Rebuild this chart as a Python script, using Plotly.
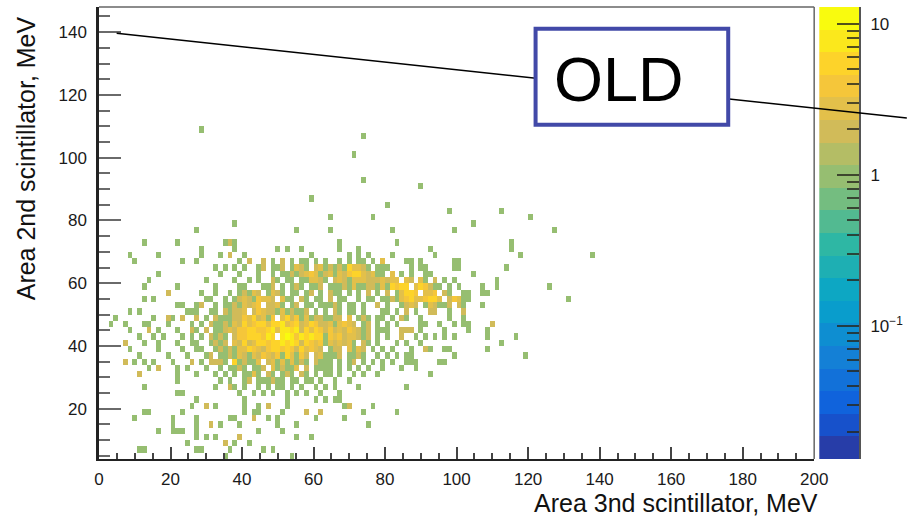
import numpy as np
import plotly.graph_objects as go

# ---- histogram binning ----
X_MIN, X_MAX, X_BINS = 0.0, 200.0, 150
Y_MIN, Y_MAX, Y_BIN = 4.0, 148.0, 2.0
Z_LOG_MIN, Z_LOG_MAX = -1.88, 1.11   # colour axis range (log10 of counts)
N_CONTOURS = 20

# ---- bin contents: one string per y-bin row (bottom row first), one char per x-bin
# '.' = empty, '1'..'9' = counts, 'a' = 10
ROW_COUNTS = [
    ".......... .......... ......1... .......... 1.........",                          # 0
    "........11 .......... 11.....1.. ....1.1...",                                     # 1
    ".......... ........1. ......2.1. .1........",                                     # 2
    ".......... .......... 1.1.1....2 .......... .1..1.....",                          # 3
    ".......... ..1..111.. 1......... ...1....1.",                                     # 4
    ".......... .....1.... 1..2.1...1 .......1.. .1........ ......1...",               # 5
    ".......1.. .....1.... 1......11. ..2..1.1.. .....1.... .1........",               # 6
    ".........1 1......1.. .......... 1.11....1. ...2..2... .....1.... ..1.......",    # 7
    ".......... .........1 ..2.1..... 1..1.2...1 .......... .12....1..",               # 8
    ".......... .......... 1......... 1........1 .....1.1.1 1.........",               # 9
    ".......... ......11.. .........1 ..1.1.1..1 .1.1..1... 1.........",               # 10
    ".........1 .......... ....1..21. 1..1.1.11. 1.1..1.1.1 ....1..... ....1.....",    # 11
    ".......... ......1... .....1.1.. 12.111211. 11.11.1..1 ..1.......",               # 12
    "........2. ......1... 1...1.1.1. 1131.21.12 1.21.1.11. 1..1.1..1. .........1",    # 13
    ".......... 1.2...1.1. ..1..1.112 1.112.3121 13.2.1111. 1.1.1.1..1 ...1..1...",    # 14
    ".....2.1.1 .1...1...2 .1.2221.51 2113.23131 3121.2111. 1.12.1.1.1 .1..111... .11.......",  # 15
    "........1. ....1...1. ..12.11213 2132432415 3142.23111 2.1121..1. 1.1.11.... ....1..... .........1",  # 16
    "......1... ..1....1.. 11..121213 3543245546 4253432.12 2.3132.1.1 .1...1..21 ..11...... .1........",  # 17
    ".....2...1 ..1...1..1 1..1212.32 5236546576 7625434132 3231.21.1. ..1.1..1.. .......... ....1.....",  # 18
    "........1. .1.1...1.1 .1.2121.24 4565476.7a 8476856143 4233212.1. 1..2..1.1. 1.1.1..... .1.....1..",  # 19
    "......1... 2.1...1..2 1.2.112324 4654458379 6725354242 3243212.11 1..222.1.. ..1....1.. .1........",  # 20
    "..1..1...1 1...1....1 .1.2112132 5346535673 4523642231 3432.12.1. 1.1....11. .1..1.11.. ..2.......",  # 21
    "...1...... .1..21.2.. 2.1.211122 4352314.35 2413122112 2.3.121.11 .1.21..1.. ...1..1...",  # 22
    "......1.1. ........11 1..11.2122 3.24322131 2112.1.1.2 1.11.1...1 1.1.2.1..2 2..1..2...",  # 23
    ".......... ......11.. 12..1.1121 3234.2231. 12.11.1112 1.11.1..2. 1..1232.13 2112.21... 1.........",  # 24
    ".........1 .1........ ..11..1.12 3214332.31 1.21.11.2. 11..1.11.1 1213453345 53.24311.. .......... ........1.",  # 25
    ".......... ....2..... .1..1..1.1 2132.1321. 11.12.1.21 1.1.1.2.1. 2.13564.33 4.21..11.. 11........",  # 26
    ".........1 ......1... ....1....1 1...112.1. 121.112.11 1213112213 15456.3542 11.1.1.... 1..1...... ....1.....",  # 27
    ".......... 1......... ..1.....1. .1.1..21.1 1.113321.2 3213332223 233.32.31. 2.1.1..... ...1......",  # 28
    ".......... ..1....... .....1...1 ...1..1.11 2123431231 3245532311 .3.1.1..11 ........1.",  # 29
    ".......... .......... ....1.1.1. 1..12.112. 1321.23121 2153321.11 1....1.11. ....11.... .....1....",  # 30
    ".......1.. .......1.. 1........1 .2..2.1.2. 1.11.1.1.. 1.1.11.1.3 ....11.1.. ....11....",  # 31
    "......1... ..1....... .1...1.2.. 1......... ....1..... ..1.1.1... .1........ 1......... ........1. .......... ...1......",  # 32
    ".......... .......... .1......1. .......1.1 ..1....... 1...1..... .........1 .......... ......1...",  # 33
    ".........1 ......1... ......121. .......... .......... 1......... ..1....... .......... ......1...",  # 34
    "",                                                                                 # 35
    ".......... .......... 1......... .......... .1......1. .......... .1........ ....1..... .......... .....1....",  # 36
    ".......... .......... ........1. .......... .......... .......... .......... ........1.",  # 37
    ".......... .......... .......... .......... ........1. .......1.. .......... .......... .......... 1.........",  # 38
    ".......... .......... .......... .......... .......... .......... .......... ...1...... ....1.....",  # 39
    ".......... .......... .......... .......... .......... .......... 1.........",       # 40
    ".......... .......... .......... .......... ....1.....",                             # 41
    "",                                                                                   # 42
    ".......... .......... .......... .......... .......... .......... .......1..",       # 43
    ".......... .......... .......... .......... .......... .....1....",                  # 44
    "",                                                                                   # 45
    "",                                                                                   # 46
    "",                                                                                   # 47
    ".......... .......... .......... .......... .......... ...1......",                  # 48
    "",                                                                                   # 49
    "",                                                                                   # 50
    ".......... .......... .......... .......... .......... .....1....",                  # 51
    ".......... .......... .1........",                                                   # 52
]

X_TICKS = [0, 20, 40, 60, 80, 100, 120, 140, 160, 180, 200]
Y_TICKS = [20, 40, 60, 80, 100, 120, 140]
CBAR_TICK_VALUES = [0.1, 1, 10]
CBAR_TICK_TEXT = ["10<sup>\u22121</sup>", "1", "10"]

X_TITLE = "Area 3nd scintillator, MeV"
Y_TITLE = "Area 2nd scintillator, MeV"
LABEL_TEXT = "OLD"

FONT = "Liberation Sans, Arial, Helvetica, sans-serif"


def decode(ch):
    if ch == ".":
        return 0
    if ch.isdigit():
        return int(ch)
    return 10 + ord(ch) - ord("a")


# ---- build the 2D histogram ----
nx = X_BINS
ny = int(round((Y_MAX - Y_MIN) / Y_BIN))
bw = (X_MAX - X_MIN) / X_BINS
counts = np.zeros((ny, nx))
for j, row in enumerate(ROW_COUNTS):
    groups = row.split()
    for g in groups[:-1]:
        assert len(g) == 10, (j, g)
    cells = "".join(groups)
    for i, ch in enumerate(cells):
        counts[j, i] = decode(ch)

x_centers = X_MIN + (np.arange(nx) + 0.5) * bw
y_centers = Y_MIN + (np.arange(ny) + 0.5) * Y_BIN
safe = np.where(counts > 0, counts, 1.0)
zlog = np.where(counts > 0, np.log10(safe), np.nan)

# ---- ROOT "bird" palette, sampled into 20 contour bands ----
BIRD_STOPS = [0.0, 0.125, 0.25, 0.375, 0.5, 0.625, 0.75, 0.875, 1.0]
BIRD_R = [0.2082, 0.0592, 0.0780, 0.0232, 0.1802, 0.5301, 0.8186, 0.9956, 0.9764]
BIRD_G = [0.1664, 0.3599, 0.5041, 0.6419, 0.7178, 0.7492, 0.7328, 0.7862, 0.9832]
BIRD_B = [0.5293, 0.8684, 0.8385, 0.7914, 0.6425, 0.4662, 0.3499, 0.1968, 0.0539]


def bird(p):
    r = np.interp(p, BIRD_STOPS, BIRD_R)
    g = np.interp(p, BIRD_STOPS, BIRD_G)
    b = np.interp(p, BIRD_STOPS, BIRD_B)
    return "rgb(%d,%d,%d)" % (round(r * 255), round(g * 255), round(b * 255))


band_colors = []
for k in range(N_CONTOURS):
    idx = int((k + 0.99) * 255 / N_CONTOURS)
    band_colors.append(bird(min(idx / 254.0, 1.0)))

colorscale = []
for k, c in enumerate(band_colors):
    colorscale.append([k / N_CONTOURS, c])
    colorscale.append([(k + 1) / N_CONTOURS, c])

# ---- figure geometry (pixels) ----
W, H = 910, 521
ML, MR, MT, MB = 99, 48, 7, 62
PW, PH = W - ML - MR, H - MT - MB
MAIN_RIGHT_PX = 817
CBAR_LEFT_PX = 822


def px_x(px):
    return (px - ML) / PW


def px_y(py):
    return (H - MB - py) / PH


fig = go.Figure()

fig.add_trace(go.Heatmap(
    x=x_centers, y=y_centers, z=zlog,
    zmin=Z_LOG_MIN, zmax=Z_LOG_MAX, colorscale=colorscale,
    showscale=False, hoverinfo="skip", xaxis="x", yaxis="y",
))

# palette strip
band_edges = np.linspace(Z_LOG_MIN, Z_LOG_MAX, N_CONTOURS + 1)
band_mid = 0.5 * (band_edges[:-1] + band_edges[1:])
fig.add_trace(go.Heatmap(
    x=[0], y=band_mid, z=[[v] for v in band_mid],
    zmin=Z_LOG_MIN, zmax=Z_LOG_MAX, colorscale=colorscale,
    showscale=False, hoverinfo="skip", xaxis="x2", yaxis="y2",
))

minor_cbar = []
for dec in (0.01, 0.1, 1.0):
    for m in range(2, 10):
        v = np.log10(m * dec)
        if Z_LOG_MIN < v < Z_LOG_MAX:
            minor_cbar.append(float(v))

tick_font = dict(family=FONT, size=17, color="#1a1a1a")

fig.update_layout(
    width=W, height=H,
    margin=dict(l=ML, r=MR, t=MT, b=MB, pad=0),
    paper_bgcolor="white", plot_bgcolor="white",
    showlegend=False,
    xaxis=dict(
        domain=[0, px_x(MAIN_RIGHT_PX)], range=[X_MIN, X_MAX],
        tickvals=X_TICKS, ticks="inside", ticklen=12, tickwidth=1.5, tickcolor="#444",
        minor=dict(tick0=0, dtick=5, ticks="inside", ticklen=6, tickwidth=1.5, tickcolor="#444"),
        showline=True, linecolor="#222", linewidth=2, mirror=False,
        showgrid=False, zeroline=False, tickfont=tick_font, ticklabelstandoff=4,
        anchor="y",
    ),
    yaxis=dict(
        domain=[0, 1], range=[Y_MIN, Y_MAX],
        tickvals=Y_TICKS, ticks="inside", ticklen=22, tickwidth=2, tickcolor="#6a6a6a",
        minor=dict(tick0=0, dtick=5, ticks="inside", ticklen=11, tickwidth=2, tickcolor="#6a6a6a"),
        showline=True, linecolor="#222", linewidth=2.5, mirror=False,
        showgrid=False, zeroline=False, tickfont=tick_font, ticklabelstandoff=6,
        anchor="x",
    ),
    xaxis2=dict(
        domain=[px_x(CBAR_LEFT_PX), 1], range=[-0.5, 0.5],
        showticklabels=False, ticks="", showline=False, showgrid=False, zeroline=False,
        anchor="y2",
    ),
    yaxis2=dict(
        domain=[0, 1], range=[Z_LOG_MIN, Z_LOG_MAX], side="right",
        tickvals=[float(np.log10(v)) for v in CBAR_TICK_VALUES], ticktext=CBAR_TICK_TEXT,
        ticks="inside", ticklen=22, tickwidth=2, tickcolor="rgba(40,40,30,0.8)",
        minor=dict(tickvals=minor_cbar, ticks="inside", ticklen=12, tickwidth=2,
                   tickcolor="rgba(40,40,30,0.8)"),
        showline=True, linecolor="#555", linewidth=2,
        showgrid=False, zeroline=False, tickfont=tick_font, ticklabelstandoff=6,
        anchor="x2",
    ),
)

shapes = [
    # upper and right frame of the pad
    dict(type="line", xref="x domain", yref="y domain", x0=0, x1=1, y0=1, y1=1,
         line=dict(color="#666", width=1.5)),
    dict(type="line", xref="x domain", yref="y domain", x0=1, x1=1, y0=0, y1=1,
         line=dict(color="#666", width=1.5)),
    # pointer line
    dict(type="line", xref="paper", yref="paper",
         x0=px_x(116.7), y0=px_y(33.3), x1=px_x(910), y1=px_y(118),
         line=dict(color="black", width=1.6)),
    # label box
    dict(type="rect", xref="paper", yref="paper",
         x0=px_x(537.3), x1=px_x(730.7), y0=px_y(124.7), y1=px_y(28.7),
         line=dict(color="#4249a8", width=4), fillcolor="white"),
]
fig.update_layout(shapes=shapes)

fig.add_annotation(
    text=LABEL_TEXT, xref="paper", yref="paper", x=px_x(621), y=px_y(79),
    xanchor="center", yanchor="middle", showarrow=False,
    font=dict(family=FONT, size=63, color="black"),
)
fig.add_annotation(
    text=X_TITLE, xref="paper", yref="paper", x=px_x(823), y=px_y(503),
    xanchor="right", yanchor="middle", showarrow=False,
    font=dict(family=FONT, size=25, color="#111"),
)
fig.add_annotation(
    text=Y_TITLE, xref="paper", yref="paper", x=px_x(26), y=px_y(158),
    xanchor="center", yanchor="middle", showarrow=False, textangle=-90,
    font=dict(family=FONT, size=25, color="#111"),
)

fig.write_html("out.html")
